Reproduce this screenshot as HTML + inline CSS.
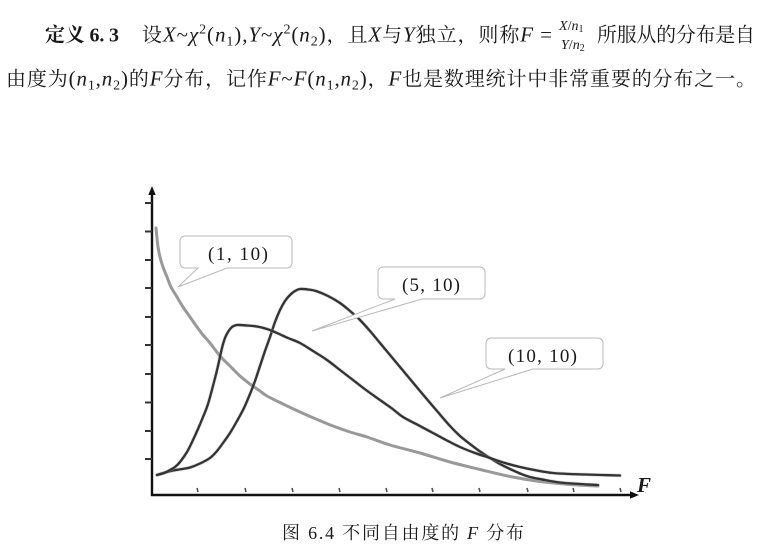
<!DOCTYPE html>
<html>
<head>
<meta charset="utf-8">
<style>
  html,body{margin:0;padding:0;background:#fff;}
  body{width:769px;height:555px;overflow:hidden;}
  svg{display:block;}
  text{font-family:"Liberation Serif","Noto Serif CJK SC",serif;fill:#1a1a1a;}
  .m{font-family:"Liberation Serif",serif;font-style:italic;}
  .r{font-family:"Liberation Serif",serif;}
</style>
</head>
<body>
<svg width="769" height="555" viewBox="0 0 769 555" xmlns="http://www.w3.org/2000/svg">
  <!-- Paragraph line 1 -->
  <text x="45" y="41.5" font-size="20" font-weight="bold" textLength="74" lengthAdjust="spacing">定义 6. 3</text>
  <text x="142" y="41.5" font-size="20" textLength="410" lengthAdjust="spacing">设<tspan class="m" font-size="21">X</tspan><tspan class="r" font-size="21">~</tspan><tspan class="m" font-size="21">χ</tspan><tspan class="r" font-size="14" dy="-8">2</tspan><tspan class="r" font-size="21" dy="8">(</tspan><tspan class="m" font-size="21">n</tspan><tspan class="r" font-size="14" dy="4">1</tspan><tspan class="r" font-size="21" dy="-4">),</tspan><tspan class="m" font-size="21">Y</tspan><tspan class="r" font-size="21">~</tspan><tspan class="m" font-size="21">χ</tspan><tspan class="r" font-size="14" dy="-8">2</tspan><tspan class="r" font-size="21" dy="8">(</tspan><tspan class="m" font-size="21">n</tspan><tspan class="r" font-size="14" dy="4">2</tspan><tspan class="r" font-size="21" dy="-4">)</tspan>，且<tspan class="m" font-size="21">X</tspan>与<tspan class="m" font-size="21">Y</tspan>独立，则称<tspan class="m" font-size="21">F</tspan><tspan class="r" font-size="21"> = </tspan></text>
  <!-- fraction -->
  <text x="559" y="30" font-size="14"><tspan class="m">X</tspan><tspan class="r">/</tspan><tspan class="m">n</tspan><tspan class="r" font-size="10" dy="2">1</tspan></text>
  <text x="561" y="49" font-size="14"><tspan class="m">Y</tspan><tspan class="r">/</tspan><tspan class="m">n</tspan><tspan class="r" font-size="10" dy="2">2</tspan></text>
  <text x="597" y="41.5" font-size="20" textLength="158" lengthAdjust="spacing">所服从的分布是自</text>

  <!-- Paragraph line 2 -->
  <text x="6" y="85.5" font-size="20" textLength="750" lengthAdjust="spacing">由度为<tspan class="r" font-size="21">(</tspan><tspan class="m" font-size="21">n</tspan><tspan class="r" font-size="14" dy="4">1</tspan><tspan class="r" font-size="21" dy="-4">,</tspan><tspan class="m" font-size="21">n</tspan><tspan class="r" font-size="14" dy="4">2</tspan><tspan class="r" font-size="21" dy="-4">)</tspan>的<tspan class="m" font-size="21">F</tspan>分布，记作<tspan class="m" font-size="21">F</tspan><tspan class="r" font-size="21">~</tspan><tspan class="m" font-size="21">F</tspan><tspan class="r" font-size="21">(</tspan><tspan class="m" font-size="21">n</tspan><tspan class="r" font-size="14" dy="4">1</tspan><tspan class="r" font-size="21" dy="-4">,</tspan><tspan class="m" font-size="21">n</tspan><tspan class="r" font-size="14" dy="4">2</tspan><tspan class="r" font-size="21" dy="-4">)</tspan>，<tspan class="m" font-size="21">F</tspan>也是数理统计中非常重要的分布之一。</text>

  <!-- Axes -->
  <line x1="152" y1="496" x2="152" y2="192" stroke="#111" stroke-width="2.4"/>
  <polygon points="152,186 148.3,195 155.7,195" fill="#111"/>
  <line x1="151" y1="495" x2="632" y2="495" stroke="#111" stroke-width="2.4"/>
  <polygon points="639,495 630,491.3 630,498.7" fill="#111"/>

  <!-- Y ticks -->
  <g stroke="#333" stroke-width="2">
    <line x1="145" y1="203" x2="152" y2="203"/>
    <line x1="145" y1="231.5" x2="152" y2="231.5"/>
    <line x1="145" y1="260" x2="152" y2="260"/>
    <line x1="145" y1="288" x2="152" y2="288"/>
    <line x1="145" y1="317" x2="152" y2="317"/>
    <line x1="145" y1="345" x2="152" y2="345"/>
    <line x1="145" y1="374" x2="152" y2="374"/>
    <line x1="145" y1="402.5" x2="152" y2="402.5"/>
    <line x1="145" y1="431" x2="152" y2="431"/>
    <line x1="145" y1="459" x2="152" y2="459"/>
  </g>
  <!-- X ticks -->
  <g stroke="#555" stroke-width="1.6">
    <line x1="197" y1="488" x2="198" y2="492"/>
    <line x1="245" y1="488" x2="246" y2="492"/>
    <line x1="292" y1="488" x2="293" y2="492"/>
    <line x1="339" y1="488" x2="340" y2="492"/>
    <line x1="386" y1="488" x2="387" y2="492"/>
    <line x1="432" y1="488" x2="433" y2="492"/>
    <line x1="479" y1="488" x2="480" y2="492"/>
    <line x1="527" y1="488" x2="528" y2="492"/>
    <line x1="573" y1="488" x2="574" y2="492"/>
    <line x1="620" y1="488" x2="621" y2="492"/>
  </g>
  <text x="637" y="492" font-size="21" class="m" font-weight="bold" fill="#111">F</text>

  <!-- Curves -->
  <polyline class="smooth" fill="none" stroke="#999" stroke-width="3" stroke-linejoin="round" stroke-linecap="round"
    points="156,228 157,238 158,247 160,257 163,267 167,277 171,287 177,297 183,307 190,317 197,327 203,335 210,343 220,356 230,366 240,376 250,384 260,391 267,396 283,404 300,412 316,419 333,426 350,432 367,437 390,445 420,453 450,462 480,469.5 510,476.5 540,481.5 570,484.5 598,486"/>

  <g fill="none" stroke-linejoin="round" stroke-linecap="round">
    <polyline class="smooth" stroke="#aaa" stroke-opacity="0.45" stroke-width="3.6"
      points="157,475 165,472.5 173,470.5 182,469 190,467.5 200,463.5 210,458 217,451 223,443 230,433 237,421 244,408 250,394 255,381 260,366 265,351 270,337 275,322 280,310 285,301 290,295 295,291 300,289 308,289.5 316,291 328,296 340,303 350,311 360,320 370,331 380,343 390,355 400,367 410,379 420,391 437,411 450,426 460,436 470,444 480,451.5 490,458 500,464 510,469 520,473.5 530,477 545,480 560,482.5 580,484 598,485"/>
    <polyline class="smooth" stroke="#333" stroke-width="2.3"
      points="157,475 165,472.5 173,470.5 182,469 190,467.5 200,463.5 210,458 217,451 223,443 230,433 237,421 244,408 250,394 255,381 260,366 265,351 270,337 275,322 280,310 285,301 290,295 295,291 300,289 308,289.5 316,291 328,296 340,303 350,311 360,320 370,331 380,343 390,355 400,367 410,379 420,391 437,411 450,426 460,436 470,444 480,451.5 490,458 500,464 510,469 520,473.5 530,477 545,480 560,482.5 580,484 598,485"/>
    <polyline class="smooth" stroke="#aaa" stroke-opacity="0.45" stroke-width="3.6"
      points="157,475 164,473 170,470 175,467 180,462 187,452 193,440 198,429 203,417 208,404 214,382 218,366 222,348 225,338 228,332 232,327 237,325 247,325.5 257,326.5 267,329 277,333 288,338 300,343 313,351 327,360 340,370 353,380 366,390 380,400 392,408.5 403,417 418,425 433,433 446,440 460,447 475,453 490,458 505,463 520,467 537,470.5 553,473 570,474 585,474.5 602,475 620,475.5"/>
    <polyline class="smooth" stroke="#333" stroke-width="2.3"
      points="157,475 164,473 170,470 175,467 180,462 187,452 193,440 198,429 203,417 208,404 214,382 218,366 222,348 225,338 228,332 232,327 237,325 247,325.5 257,326.5 267,329 277,333 288,338 300,343 313,351 327,360 340,370 353,380 366,390 380,400 392,408.5 403,417 418,425 433,433 446,440 460,447 475,453 490,458 505,463 520,467 537,470.5 553,473 570,474 585,474.5 602,475 620,475.5"/>
  </g>

  <!-- Callouts -->
  <g fill="#fff" stroke="#b8b8b8" stroke-width="1">
    <path d="M185,236 H287 A5,5 0 0 1 292,241 V263 A5,5 0 0 1 287,268 H227 L178,287 L198,268 H185 A5,5 0 0 1 180,263 V241 A5,5 0 0 1 185,236 Z"/>
    <path d="M383,267 H480 A5,5 0 0 1 485,272 V294 A5,5 0 0 1 480,299 H422 L312,331 L395,299 H383 A5,5 0 0 1 378,294 V272 A5,5 0 0 1 383,267 Z"/>
    <path d="M491,338 H598 A5,5 0 0 1 603,343 V364 A5,5 0 0 1 598,369 H533 L440,398 L505,369 H491 A5,5 0 0 1 486,364 V343 A5,5 0 0 1 491,338 Z"/>
  </g>
  <text x="208" y="260" font-size="19" class="r" textLength="60" lengthAdjust="spacing" fill="#222">(1, 10)</text>
  <text x="402" y="291" font-size="19" class="r" textLength="58" lengthAdjust="spacing" fill="#222">(5, 10)</text>
  <text x="508" y="362" font-size="19" class="r" textLength="69" lengthAdjust="spacing" fill="#222">(10, 10)</text>

  <!-- Caption -->
  <text x="282" y="539" font-size="18" textLength="242" lengthAdjust="spacing" fill="#222">图 6.4 不同自由度的 <tspan class="m">F</tspan> 分布</text>
</svg>
<script>
(function(){
  var ns="http://www.w3.org/2000/svg";
  var pls=document.querySelectorAll("polyline.smooth");
  for(var k=0;k<pls.length;k++){
    var pl=pls[k];
    var raw=pl.getAttribute("points").trim().split(/\s+/).map(function(s){var a=s.split(",");return [parseFloat(a[0]),parseFloat(a[1])];});
    var n=raw.length; if(n<3) continue;
    var d="M"+raw[0][0]+","+raw[0][1];
    for(var i=0;i<n-1;i++){
      var p0=raw[i>0?i-1:i], p1=raw[i], p2=raw[i+1], p3=raw[i+2<n?i+2:i+1];
      var c1x=p1[0]+(p2[0]-p0[0])/6, c1y=p1[1]+(p2[1]-p0[1])/6;
      var c2x=p2[0]-(p3[0]-p1[0])/6, c2y=p2[1]-(p3[1]-p1[1])/6;
      d+=" C"+c1x.toFixed(2)+","+c1y.toFixed(2)+" "+c2x.toFixed(2)+","+c2y.toFixed(2)+" "+p2[0]+","+p2[1];
    }
    var path=document.createElementNS(ns,"path");
    path.setAttribute("d",d);
    ["fill","stroke","stroke-width","stroke-opacity","stroke-linejoin","stroke-linecap"].forEach(function(a){
      var v=pl.getAttribute(a); if(v!==null) path.setAttribute(a,v);
    });
    pl.parentNode.replaceChild(path,pl);
  }
})();
</script>
</body>
</html>
